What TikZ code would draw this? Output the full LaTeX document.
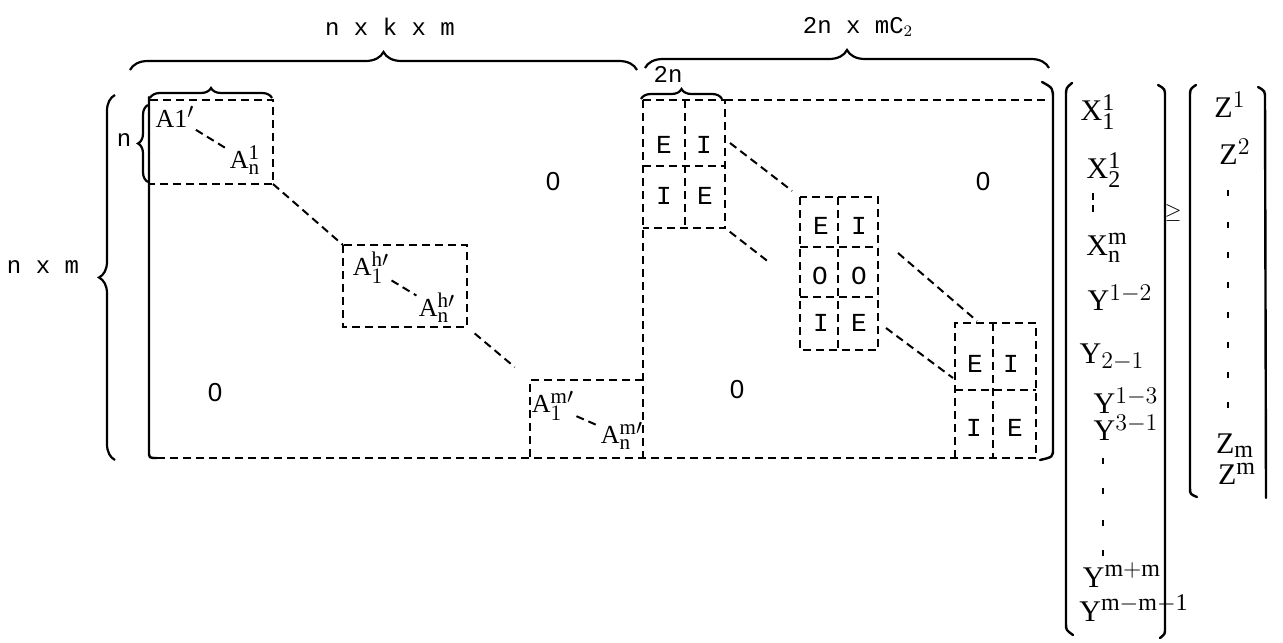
\documentclass[tikz,border=0pt]{standalone}
\usepackage{fontspec}
\setmainfont{Liberation Serif}
\setmonofont{Liberation Mono}
\newfontfamily\zerofont{Liberation Sans}
\usetikzlibrary{decorations.pathreplacing}

\DeclareMathSizes{13}{13}{10.5}{8}
\DeclareMathSizes{15}{15}{12}{9}

\newcommand{\sym}[3]{$\mathrm{#1}^{\mathrm{#2}}_{\mathrm{#3}}$}

\begin{document}
\begin{tikzpicture}[
  x=0.5pt, y=-0.5pt,
  dsh/.style={line width=1pt, dash pattern=on 4pt off 2.5pt},
  edgeln/.style={line width=1.2pt, line cap=round},
  brc/.style={decorate, line width=1.1pt, decoration={brace, amplitude=#1}},
  brc/.default=8pt,
  dim/.style={font=\ttfamily\fontsize{12}{14}\selectfont, inner sep=0pt},
  cell/.style={font=\ttfamily\fontsize{13}{15}\selectfont, inner sep=0pt},
  zero/.style={font=\zerofont\fontsize{13}{15}\selectfont, inner sep=0pt},
  aent/.style={font=\fontsize{13}{15}\selectfont, inner sep=1pt},
  vent/.style={font=\fontsize{15}{17}\selectfont, inner sep=1pt},
  vdot/.style={line width=1pt}
]
\useasboundingbox (0,0) rectangle (1283,642);

% dimension labels and braces
\node[dim] (nkm) at (390,27) {n x k x m};
\node[dim] (tnm) at (858,27) {2n x mC$_2$};
\node[dim] (nm) at (43,267) {n x m};
\node[dim] (nn) at (124,140) {n};
\node[dim] (tn) at (668,74) {2n};
\draw[brc=9pt] (130,70) -- (637,70);
\draw[brc=9pt] (645,68) -- (1049,68);
\draw[brc=5pt] (150,98) -- (272,98);
\draw[brc=5pt] (641,99) -- (722,99);
\draw[brc=5pt] (148,182) -- (148,105);
\draw[brc=8pt] (115,460) -- (115,95);

% outline of the matrix
\draw[edgeln] (149,97) -- (149,451) .. controls (149,458) .. (157,458);
\draw[dsh] (157,458) -- (1040,458);
\draw[edgeln] (1042,82) .. controls (1053,88) .. (1053,100) -- (1053,448) .. controls (1053,457) .. (1040,460);
\draw[dsh] (725,100) -- (1046,100);
\draw[dsh] (643,100) -- (643,458);

% A blocks
\coordinate (a1nw) at (150,100);
\coordinate (a1se) at (273,184);
\coordinate (ahnw) at (343,245);
\coordinate (ahse) at (467,327);
\coordinate (amnw) at (530,380);
\coordinate (amse) at (643,458);
\draw[dsh] (a1nw) -- (a1se |- a1nw) -- (a1se) -- (a1nw |- a1se);
\draw[dsh] (ahnw) rectangle (ahse);
\draw[dsh] (amse |- amnw) -- (amnw) -- (amnw |- amse);
\node[aent] (a11) at (175,117) {$\mathrm{A1}'$};
\node[aent] (a1n) at (245,160) {\sym{A}{1}{n}};
\node[aent] (ah1) at (371,268) {$\mathrm{A}^{\mathrm{h}\prime}_{1}$};
\node[aent] (ahn) at (437,308) {$\mathrm{A}^{\mathrm{h}\prime}_{\mathrm{n}}$};
\node[aent] (am1) at (553,406) {$\mathrm{A}^{\mathrm{m}\prime}_{1}$};
\node[aent] (amn) at (622,436) {$\mathrm{A}^{\mathrm{m}\prime}_{\mathrm{n}}$};
\draw[dsh] (a11) -- (a1n);
\draw[dsh] (ah1) -- (ahn);
\draw[dsh] (am1) -- (amn);
\draw[dsh] (a1se) -- (ahnw);
\draw[dsh, shorten <=5pt, shorten >=10pt] (ahse) -- (amnw);

% zero regions
\node[zero] (zr1) at (553,182) {0};
\node[zero] (zr2) at (215,393) {0};
\node[zero] (zr3) at (737,390) {0};
\node[zero] (zr4) at (983,182) {0};

% E/I blocks
\coordinate (e1nw) at (643,100);
\coordinate (e1se) at (725,228);
\coordinate (e2nw) at (800,197);
\coordinate (e2se) at (878,350);
\coordinate (e3nw) at (955,323);
\coordinate (e3se) at (1036,458);
\draw[dsh] (e1nw) -- (e1se |- e1nw) -- (e1se) -- (e1nw |- e1se);
\draw[dsh] (643,166) -- (725,166);
\draw[dsh] (685,100) -- (685,228);
\draw[dsh] (e2nw) rectangle (e2se);
\draw[dsh] (800,247) -- (878,247);
\draw[dsh] (800,297) -- (878,297);
\draw[dsh] (838,197) -- (838,350);
\draw[dsh] (e3nw |- e3se) -- (e3nw) -- (e3se |- e3nw) -- (e3se);
\draw[dsh] (955,390) -- (1036,390);
\draw[dsh] (993,323) -- (993,458);
\node[cell] (c11) at (664,145) {E};
\node[cell] (c12) at (704,145) {I};
\node[cell] (c13) at (664,196) {I};
\node[cell] (c14) at (705,196) {E};
\node[cell] (c21) at (821,226) {E};
\node[cell] (c22) at (859,226) {I};
\node[cell] (c23) at (820,276) {O};
\node[cell] (c24) at (859,276) {O};
\node[cell] (c25) at (821,323) {I};
\node[cell] (c26) at (859,323) {E};
\node[cell] (c31) at (975,364) {E};
\node[cell] (c32) at (1011,364) {I};
\node[cell] (c33) at (974,428) {I};
\node[cell] (c34) at (1015,428) {E};
\coordinate (e1r) at (730,143);
\coordinate (e1end) at (770,263);
\coordinate (e2ra) at (898,253);
\coordinate (e2rb) at (886,328);
\coordinate (e3t) at (977,321);
\coordinate (e3l) at (953,378);
\draw[dsh, shorten >=5pt] (e1r) -- (e2nw);
\draw[dsh, shorten <=3pt] (e1se) -- (e1end);
\draw[dsh] (e2ra) -- (e3t);
\draw[dsh] (e2rb) -- (e3l);

% vector X, Y
\draw[edgeln] (1072,83) .. controls (1066,88) .. (1066,96) -- (1066,624) .. controls (1066,630) .. (1073,635);
\draw[edgeln] (1158,85) .. controls (1165,89) .. (1165,97) -- (1165,628) .. controls (1165,634) .. (1160,638);
\node[vent] (x11) at (1098,112) {\sym{X}{1}{1}};
\node[vent] (x21) at (1104,170) {\sym{X}{1}{2}};
\node[vent] (xnm) at (1107,248) {\sym{X}{m}{n}};
\node[vent] (y12) at (1120,298) {$\mathrm{Y}^{1-2}$};
\node[vent] (y21) at (1112,357) {$\mathrm{Y}_{2-1}$};
\node[vent] (y13) at (1126,401) {$\mathrm{Y}^{1-3}$};
\node[vent] (y31) at (1126,428) {$\mathrm{Y}^{3-1}$};
\node[vent] (ymm) at (1122,575) {$\mathrm{Y}^{\mathrm{m+m}}$};
\node[vent] (ymm1) at (1134,608) {$\mathrm{Y}^{\mathrm{m-m-1}}$};
\draw[vdot] (1093,193) -- (1093,200);
\draw[vdot] (1093,205) -- (1093,212);
\foreach \yy in {458,488,520,550}
  \draw[vdot] (1103,\yy) -- (1103,\yy+6);

\node[vent, font=\fontsize{11}{13}\selectfont] (geq) at (1173,213) {$\geq$};

% vector Z
\draw[edgeln] (1196,85) .. controls (1190,89) .. (1190,97) -- (1190,488) .. controls (1190,494) .. (1197,497);
\draw[edgeln] (1258,87) .. controls (1265,91) .. (1265,99) -- (1266,498);
\node[vent] (zz1) at (1230,105) {$\mathrm{Z}^{1}$};
\node[vent] (zz2) at (1235,152) {$\mathrm{Z}^{2}$};
\node[vent] (zzs) at (1235,446) {$\mathrm{Z}_{\mathrm{m}}$};
\node[vent] (zzp) at (1237,474) {$\mathrm{Z}^{\mathrm{m}}$};
\foreach \yy in {190,222,252,282,312,342,372,402}
  \draw[vdot] (1228,\yy) -- (1228,\yy+6);
\end{tikzpicture}
\end{document}
